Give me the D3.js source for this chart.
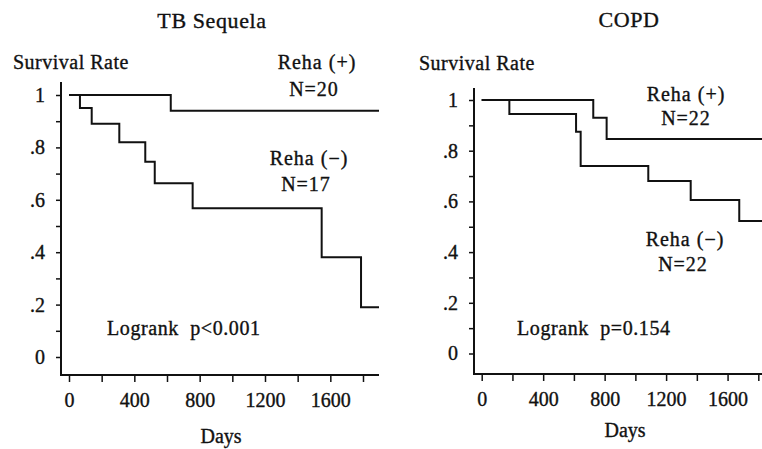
<!DOCTYPE html>
<html><head><meta charset="utf-8">
<script src="https://cdn.jsdelivr.net/npm/d3@7"></script>
<style>
body{margin:0;background:#fff;}
svg{display:block;}
text{font-family:"Liberation Serif","Times New Roman",serif;fill:#111;stroke:#111;stroke-width:0.35px;}
</style></head>
<body>
<svg id="chart" width="762" height="449"></svg>
<script>
// ---- data ----
const panelTitles = ["TB Sequela", "COPD"];
const tbPlusDays = [0, 623];
const tbPlusSurv = [1.0, 0.94];
const tbMinusDays = [0, 67, 139, 308, 467, 525, 757, 1547, 1788];
const tbMinusSurv = [1.0, 0.95, 0.89, 0.82, 0.745, 0.663, 0.568, 0.381, 0.19];
const copdPlusDays = [0, 726, 813];
const copdPlusSurv = [1.0, 0.93, 0.846];
const copdMinusDays = [0, 180, 614, 644, 1084, 1360, 1676];
const copdMinusSurv = [1.0, 0.945, 0.875, 0.74, 0.68, 0.606, 0.523];
const followUpEnd = [1898, 1824];
const yTickValues = [0, 0.1, 0.2, 0.3, 0.4, 0.5, 0.6, 0.7, 0.8, 0.9, 1.0];
const yTickLabels = {"0": "0", "0.2": ".2", "0.4": ".4", "0.6": ".6", "0.8": ".8", "1": "1"};
const xTickValues = [0, 200, 400, 600, 800, 1000, 1200, 1400, 1600, 1800];
const xTickLabels = ["0", "400", "800", "1200", "1600"];
const groupLabels = [["Reha (+)", "N=20", "Reha (\u2212)", "N=17"], ["Reha (+)", "N=22", "Reha (\u2212)", "N=22"]];
const pValueText = ["Logrank\u00a0\u00a0p<0.001", "Logrank\u00a0\u00a0p=0.154"];

// ---- layout ----
const svg = d3.select("#chart");
const layouts = [
  {axX: 61, axTop: 82, axBottom: 375, x0: 69, xEnd: 379, y0: 357, y1: 95, right: 379,
   title: [212, 28], ylab: [13, 69], days: [221, 443], logrank: [107, 335],
   lab: [[317, 69], [314, 96], [309, 165], [306, 191]]},
  {axX: 474, axTop: 88, axBottom: 374, x0: 481.7, xEnd: 762, y0: 353.5, y1: 100, right: 762,
   title: [629, 27], ylab: [419, 70], days: [625, 437], logrank: [517, 335],
   lab: [[686, 101], [686, 125], [685, 246], [683, 271]]}
];
const series = [
  [[tbPlusDays, tbPlusSurv], [tbMinusDays, tbMinusSurv]],
  [[copdPlusDays, copdPlusSurv], [copdMinusDays, copdMinusSurv]]
];

layouts.forEach((L, i) => {
  const g = svg.append("g");
  const x = d3.scaleLinear().domain([0, followUpEnd[i]]).range([L.x0, L.xEnd]);
  const y = d3.scaleLinear().domain([0, 1]).range([L.y0, L.y1]);

  // axis lines
  g.append("line").attr("x1", L.axX).attr("x2", L.axX).attr("y1", L.axTop).attr("y2", L.axBottom)
    .attr("stroke", "#111").attr("stroke-width", 2);
  g.append("line").attr("x1", L.axX - 1).attr("x2", L.right).attr("y1", L.axBottom).attr("y2", L.axBottom)
    .attr("stroke", "#111").attr("stroke-width", 2);

  // y axis
  const yAxis = d3.axisLeft(y).tickValues(yTickValues).tickSize(5).tickPadding(11)
    .tickFormat(d => yTickLabels[String(+d.toFixed(1))] || "");
  const ya = g.append("g").attr("transform", `translate(${L.axX},0)`).call(yAxis);
  ya.select(".domain").remove();
  ya.selectAll(".tick line").attr("stroke", "#111").attr("stroke-width", 1.5);
  ya.selectAll(".tick text").style("font-size", "20px").style("font-family", '"Liberation Serif",serif')
    .attr("fill", "#111").attr("stroke", "#111").attr("stroke-width", 0.35);

  // x axis
  const xAxis = d3.axisBottom(x).tickValues(xTickValues).tickSize(7).tickPadding(11)
    .tickFormat(d => xTickLabels.includes(String(d)) ? String(d) : "");
  const xa = g.append("g").attr("transform", `translate(0,${L.axBottom})`).call(xAxis);
  xa.select(".domain").remove();
  xa.selectAll(".tick line").attr("stroke", "#111").attr("stroke-width", 1.5);
  xa.selectAll(".tick text").style("font-size", "20px").style("font-family", '"Liberation Serif",serif')
    .attr("fill", "#111").attr("stroke", "#111").attr("stroke-width", 0.35);

  // curves
  const line = d3.line().x(d => x(d[0])).y(d => y(d[1])).curve(d3.curveStepAfter);
  series[i].forEach(([days, surv]) => {
    const pts = days.map((d, k) => [d, surv[k]]);
    pts.push([followUpEnd[i], surv[surv.length - 1]]);
    g.append("path").attr("d", line(pts)).attr("fill", "none").attr("stroke", "#111").attr("stroke-width", 2);
  });

  // texts
  g.append("text").attr("x", L.title[0]).attr("y", L.title[1]).attr("text-anchor", "middle")
    .style("font-size", "22px").style("letter-spacing", "0.6px").text(panelTitles[i]);
  g.append("text").attr("x", L.ylab[0]).attr("y", L.ylab[1])
    .style("font-size", "20px").style("letter-spacing", "0.5px").text("Survival Rate");
  g.append("text").attr("x", L.days[0]).attr("y", L.days[1]).attr("text-anchor", "middle")
    .style("font-size", "20px").text("Days");
  g.append("text").attr("x", L.logrank[0]).attr("y", L.logrank[1])
    .style("font-size", "20px").style("letter-spacing", "0.6px").text(pValueText[i]);
  groupLabels[i].forEach((t, k) => {
    g.append("text").attr("x", L.lab[k][0]).attr("y", L.lab[k][1]).attr("text-anchor", "middle")
      .style("font-size", "20px").style("letter-spacing", "1px").text(t);
  });
});
</script>
</body></html>
